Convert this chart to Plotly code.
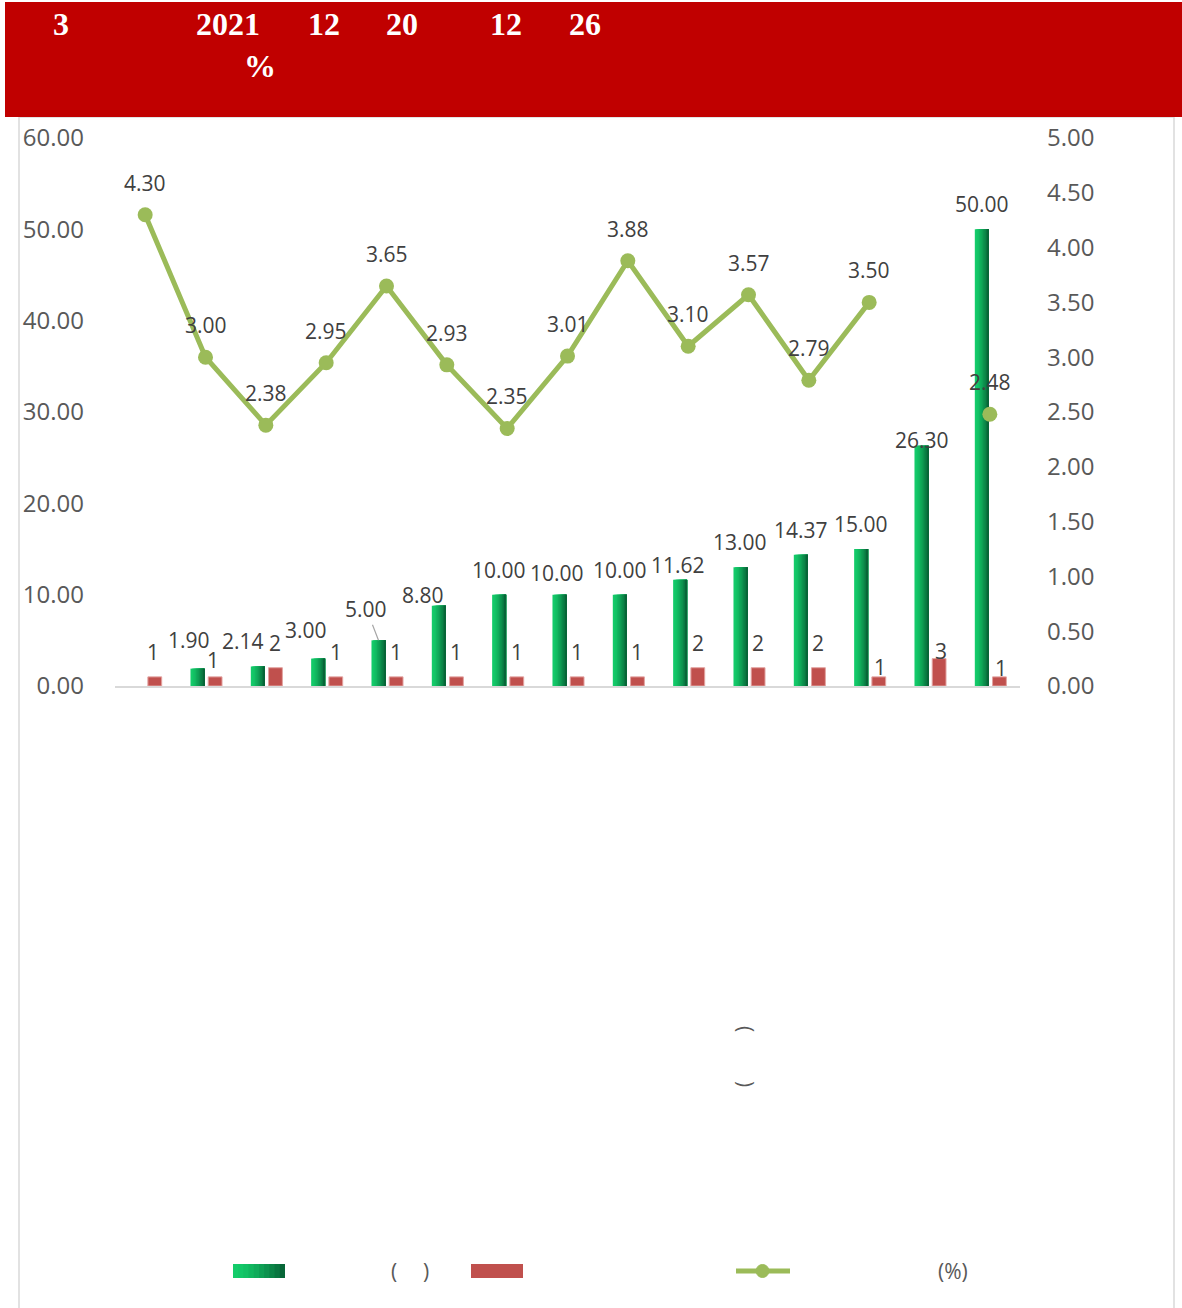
import plotly.graph_objects as go

# ---------------- data ----------------
categories = list(range(15))          # category names are not legible in the reference
loan_amount = [None, 1.90, 2.14, 3.00, 5.00, 8.80, 10.00, 10.00, 10.00,
               11.62, 13.00, 14.37, 15.00, 26.30, 50.00]
deal_count = [1, 1, 2, 1, 1, 1, 1, 1, 1, 2, 2, 2, 1, 3, 1]
rate_pct = [4.30, 3.00, 2.38, 2.95, 3.65, 2.93, 2.35, 3.01, 3.88,
            3.10, 3.57, 2.79, 3.50, None, 2.48]
left_ticks = [0, 10, 20, 30, 40, 50, 60]
right_ticks = [0, 0.5, 1.0, 1.5, 2.0, 2.5, 3.0, 3.5, 4.0, 4.5, 5.0]
title_parts = ["3", "2021", "12", "20", "12", "26"]
title_line2 = "%"
legend_texts = ["(", ")", "(%)"]

# ---------------- styling ----------------
W, H = 1182, 1308
L, R, T, B = 115, 1020, 138, 686       # plot area in pixels
GREEN_L, GREEN_R = (20, 204, 106), (7, 102, 56)
RED = "#C0504D"
LINE = "#9BBB59"
LABEL = "#404040"
TICK = "#595959"
FONT = "Open Sans"

def X(px):
    return (px - L) / (R - L)

def Y(py):
    return (B - py) / (B - T)

def grad(t):
    t = t ** 1.4
    c = [round(a + (b - a) * t) for a, b in zip(GREEN_L, GREEN_R)]
    return "rgb(%d,%d,%d)" % tuple(c)

fig = go.Figure()

# green bars with a left-to-right gradient, built from overlapping slices
g_off, g_w, n_sl = -0.249, 0.232, 10
for k in range(n_sl):
    fig.add_trace(go.Bar(
        x=categories, y=loan_amount,
        offset=g_off + k * g_w / n_sl, width=g_w - k * g_w / n_sl,
        marker=dict(color=grad(k / (n_sl - 1)), line=dict(width=0)),
        showlegend=False, hoverinfo="skip" if k else None))

r_off, r_w = 0.045, 0.229
fig.add_trace(go.Bar(
    x=categories, y=deal_count, offset=r_off, width=r_w,
    marker=dict(color=RED, line=dict(color="#E3A3A1", width=1)),
    showlegend=False))

fig.add_trace(go.Scatter(
    x=categories, y=rate_pct, yaxis="y2", mode="lines+markers",
    line=dict(color=LINE, width=5), marker=dict(color=LINE, size=15),
    connectgaps=False, showlegend=False))

ann = []
g_c = g_off + g_w / 2
r_c = r_off + r_w / 2
green_nudge = [(0, 0), (-8, -4), (-15, 0), (-12, -4), (0, 0), (-16, 14), (0, 0), (-2, 3),
               (0, 0), (-2, 10), (0, 0), (0, 0), (0, 0), (1, 19), (0, 0)]
red_nudge = [(-2, 0), (-2, 8), (0, 0), (0, 0), (0, 0), (0, 0), (0, 0), (0, 0),
             (0, 0), (0, 0), (0, 0), (0, 0), (1, 15), (2, 17), (2, 16)]
lf = dict(family=FONT, size=21, color=LABEL)
C = dict(xanchor="center", yanchor="middle")
for i, v in enumerate(loan_amount):
    if v is None:
        continue
    if i == 4:
        ann.append(dict(x=i + g_c, y=v, xref="x", yref="y", text="%.2f" % v,
                        showarrow=True, arrowhead=0, arrowwidth=1.2, arrowcolor="#A6A6A6",
                        ax=-12, ay=-31, standoff=0, font=lf))
        continue
    dx, dy = green_nudge[i]
    ann.append(dict(x=i + g_c, y=v, xref="x", yref="y", text="%.2f" % v,
                    showarrow=False, xshift=dx, yshift=25 - dy, font=lf, **C))
for i, v in enumerate(deal_count):
    dx, dy = red_nudge[i]
    ann.append(dict(x=i + r_c, y=v, xref="x", yref="y", text="%d" % v,
                    showarrow=False, xshift=dx, yshift=25 - dy, font=lf, **C))
for i, v in enumerate(rate_pct):
    if v is None:
        continue
    ann.append(dict(x=i, y=v, xref="x", yref="y2", text="%.2f" % v,
                    showarrow=False, yshift=32, font=lf, **C))

# title banner texts
tf = dict(family="Liberation Serif", size=32, color="white", weight="bold")
title_x = [61, 228, 324, 402, 506, 585]
for s, px in zip(title_parts, title_x):
    ann.append(dict(x=X(px), y=Y(24), xref="paper", yref="paper", text=s,
                    showarrow=False, font=tf, **C))
ann.append(dict(x=X(260), y=Y(66), xref="paper", yref="paper", text=title_line2,
                showarrow=False, font=tf, **C))

# rotated category-label fragment (parentheses only are legible)
rf = dict(family=FONT, size=21, color=TICK)
ann.append(dict(x=X(746), y=Y(1029), xref="paper", yref="paper", text="(",
                textangle=90, showarrow=False, font=rf, **C))
ann.append(dict(x=X(746), y=Y(1084), xref="paper", yref="paper", text=")",
                textangle=90, showarrow=False, font=rf, **C))

# legend texts
lgf = dict(family=FONT, size=21, color=TICK)
ann.append(dict(x=X(394), y=Y(1271), xref="paper", yref="paper", text=legend_texts[0],
                showarrow=False, font=lgf, **C))
ann.append(dict(x=X(426), y=Y(1271), xref="paper", yref="paper", text=legend_texts[1],
                showarrow=False, font=lgf, **C))
ann.append(dict(x=X(953), y=Y(1271), xref="paper", yref="paper", text=legend_texts[2],
                showarrow=False, font=lgf, **C))

shapes = []
# outer chart border
shapes.append(dict(type="rect", xref="paper", yref="paper", x0=X(19), x1=X(1174),
                   y0=Y(1315), y1=Y(117), line=dict(color="#D9D9D9", width=1.5),
                   layer="below"))
# title banner
shapes.append(dict(type="rect", xref="paper", yref="paper", x0=X(5), x1=X(1182),
                   y0=Y(117), y1=Y(2), fillcolor="#C00000", line=dict(width=0)))
# legend swatches
for k in range(n_sl):
    x0 = 233 + k * 52 / n_sl
    shapes.append(dict(type="rect", xref="paper", yref="paper", x0=X(x0), x1=X(285),
                       y0=Y(1278), y1=Y(1264), fillcolor=grad(k / (n_sl - 1)),
                       line=dict(width=0)))
shapes.append(dict(type="rect", xref="paper", yref="paper", x0=X(471), x1=X(523),
                   y0=Y(1278), y1=Y(1264), fillcolor=RED, line=dict(width=0)))
shapes.append(dict(type="line", xref="paper", yref="paper", x0=X(736), x1=X(790),
                   y0=Y(1271), y1=Y(1271), line=dict(color=LINE, width=5)))
shapes.append(dict(type="circle", xref="paper", yref="paper", x0=X(756), x1=X(769),
                   y0=Y(1277.5), y1=Y(1264.5), fillcolor=LINE, line=dict(color=LINE, width=1)))

fig.update_layout(
    width=W, height=H, autosize=False,
    margin=dict(l=L, r=W - R, t=T, b=H - B, pad=0),
    paper_bgcolor="white", plot_bgcolor="white",
    barmode="overlay", showlegend=False,
    font=dict(family=FONT, color=TICK),
    xaxis=dict(range=[-0.5, 14.5], showticklabels=False, showgrid=False, zeroline=False,
               showline=True, linecolor="#D9D9D9", linewidth=2, ticks=""),
    yaxis=dict(range=[0, 60], tickvals=left_ticks,
               ticktext=["%.2f" % v for v in left_ticks],
               showgrid=False, zeroline=False, showline=False, ticks="",
               tickfont=dict(family=FONT, size=24, color=TICK), ticklabelstandoff=30),
    yaxis2=dict(range=[0, 5], overlaying="y", side="right", tickvals=right_ticks,
                ticktext=["%.2f" % v for v in right_ticks],
                showgrid=False, zeroline=False, showline=False, ticks="",
                tickfont=dict(family=FONT, size=24, color=TICK), ticklabelstandoff=26),
    annotations=ann, shapes=shapes,
)

fig.write_html("out.html", config={"displayModeBar": False},
               post_script="document.body.style.margin='0px';")
